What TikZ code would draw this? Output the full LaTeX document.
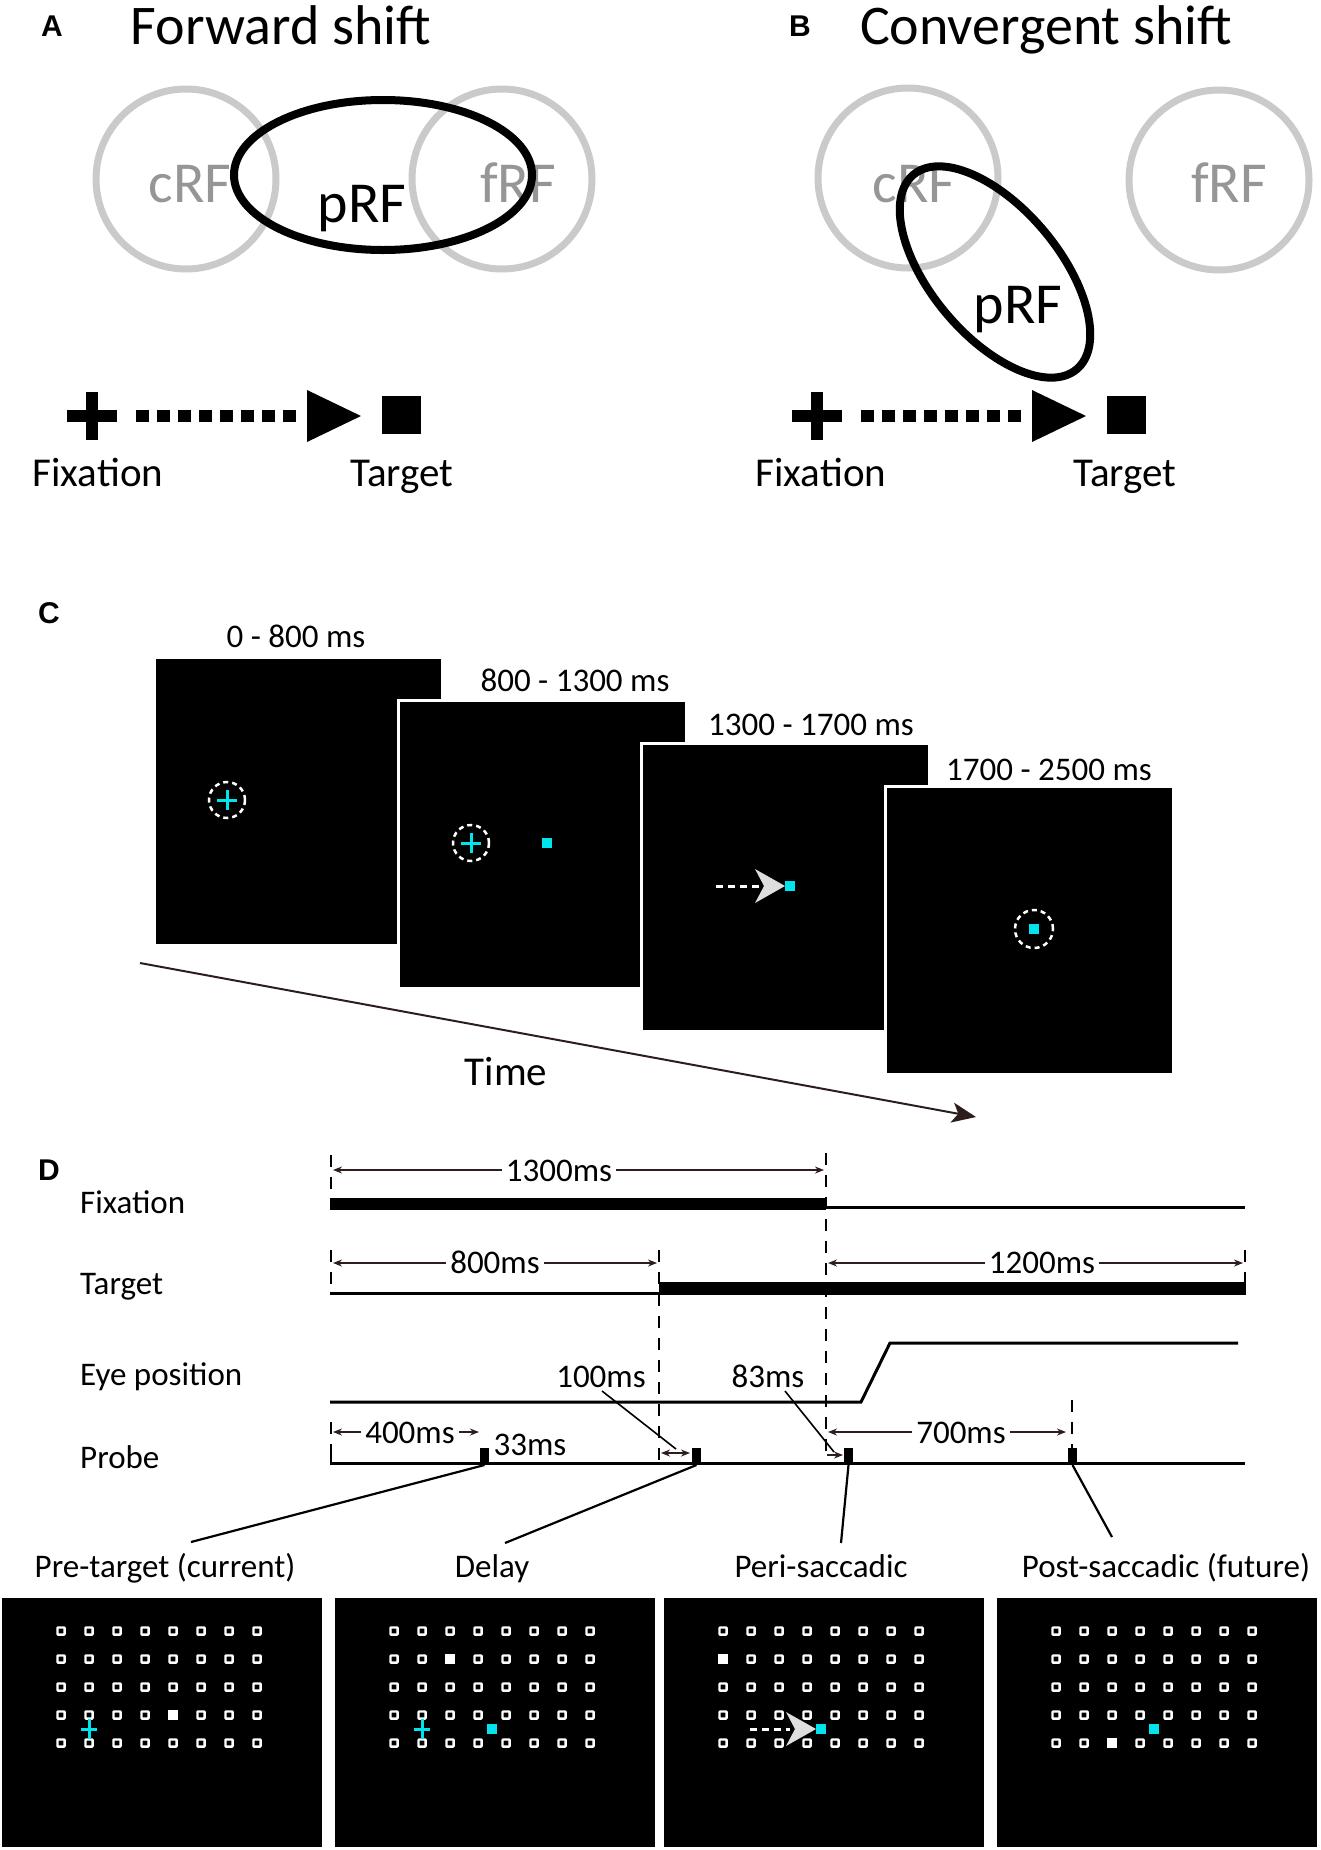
\documentclass[tikz,border=0pt]{standalone}
\usepackage{fontspec}
\setmainfont{Carlito}
\newfontfamily\labfont{Liberation Sans}
\usetikzlibrary{arrows.meta}
\definecolor{cyanm}{RGB}{0,228,238}
\definecolor{rfgray}{RGB}{202,202,202}
\definecolor{rftext}{RGB}{150,150,150}
\definecolor{arrc}{RGB}{45,30,30}
\definecolor{headgray}{RGB}{222,222,222}
\begin{document}
\begin{tikzpicture}[x=1pt,y=-1pt,
  panel/.style={font=\labfont\bfseries\fontsize{30}{32}\selectfont, inner sep=0pt, anchor=base},
  ttl/.style={font=\fontsize{56}{60}\selectfont, inner sep=0pt, anchor=base},
  rft/.style={font=\fontsize{58}{62}\selectfont, inner sep=0pt, anchor=base},
  abt/.style={font=\fontsize{41}{44}\selectfont, inner sep=0pt, anchor=base},
  dt/.style={font=\fontsize{33}{36}\selectfont, inner sep=0pt, anchor=base},
  rowt/.style={dt, anchor=base west},
  mst/.style={dt, fill=white, inner xsep=4pt, inner ysep=0pt},
  rfcirc/.style={rfgray, line width=7pt},
  prf/.style={black, line width=8pt},
  vdash/.style={line width=2.2pt, dash pattern=on 12pt off 10pt},
  msarr/.style={arrc, line width=1.6pt, {Stealth[length=9pt,width=7pt]}-{Stealth[length=9pt,width=7pt]}},
  frame/.style={draw=white, line width=3pt, fill=black},
  dcirc/.style={white, line width=2.5pt, dash pattern=on 5pt off 4pt},
  cyx/.style={cyanm, line width=3pt},
  ring/.style={white, line width=2.3pt, rounded corners=0.8pt},
  leader/.style={black, line width=2.2pt},
  thin/.style={black, line width=3pt}
]
\useasboundingbox (0,0) rectangle (1320,1850);

% ================= Panel A =================
\node[panel] (lA) at (52,36) {A};
\node[ttl] (tA) at (281,44) {Forward shift};
\draw[rfcirc] (186,179) circle[radius=90pt];
\draw[rfcirc] (502,179) circle[radius=90pt];
\node[rft, text=rftext] (cA) at (190,202) {cRF};
\node[rft, text=rftext] (fA) at (518,202) {fRF};
\draw[prf] (383,175) ellipse[x radius=149pt, y radius=75pt];
\node[rft] (pA) at (362,222) {pRF};
\draw[line width=12pt] (67,416) -- (117,416) (92,392) -- (92,440);
\draw[line width=12pt, dash pattern=on 13pt off 8pt] (136,416) -- (296,416);
\fill (307,390) -- (361,416) -- (307,442) -- cycle;
\fill (382,396) rectangle (421,434);
\node[abt] (fixA) at (98,486) {Fixation};
\node[abt] (tgtA) at (402,486) {Target};

% ================= Panel B =================
\node[panel] (lB) at (800,36) {B};
\node[ttl] (tB) at (1046,44) {Convergent shift};
\draw[rfcirc] (908,178) circle[radius=90pt];
\draw[rfcirc] (1219,180) circle[radius=90pt];
\node[rft, text=rftext] (cB) at (914,202) {cRF};
\node[rft, text=rftext] (fB) at (1229,202) {fRF};
\draw[prf, rotate around={-50:(995,272)}] (995,272) ellipse[x radius=127pt, y radius=64pt];
\node[rft] (pB) at (1018,323) {pRF};
\draw[line width=12pt] (792,416) -- (842,416) (817,392) -- (817,440);
\draw[line width=12pt, dash pattern=on 13pt off 8pt] (861,416) -- (1021,416);
\fill (1032,390) -- (1086,416) -- (1032,442) -- cycle;
\fill (1107,396) rectangle (1146,434);
\node[abt] (fixB) at (821,486) {Fixation};
\node[abt] (tgtB) at (1125,486) {Target};

% ================= Panel C =================
\node[panel] (lC) at (49,623) {C};
\draw[frame] (154,657) rectangle +(288,288);
\draw[frame] (398,700) rectangle +(288,288);
\draw[frame] (641,743) rectangle +(288,288);
\draw[frame] (885,786) rectangle +(288,288);
\node[dt] (t1) at (296,647) {0 - 800 ms};
\node[dt] (t2) at (575,691) {800 - 1300 ms};
\node[dt] (t3) at (811,735) {1300 - 1700 ms};
\node[dt] (t4) at (1049,780) {1700 - 2500 ms};
% frame 1
\draw[dcirc] (227,800) circle[radius=18pt];
\draw[cyx] (217,800) -- (237,800) (227,790) -- (227,810);
% frame 2
\draw[dcirc] (471,843) circle[radius=18pt];
\draw[cyx] (461,843) -- (481,843) (471,833) -- (471,853);
\fill[cyanm] (542,838) rectangle (552,848);
% frame 3
\draw[white, line width=3pt, dash pattern=on 7pt off 5pt] (716,886) -- (764,886);
\fill[headgray] (785,886) -- (755,869) -- (764,886) -- (755,903) -- cycle;
\fill[cyanm] (785,881) rectangle (795,891);
% frame 4
\draw[dcirc] (1034,929) circle[radius=19pt];
\fill[cyanm] (1029,924) rectangle (1039,934);
% time arrow
\coordinate (ts) at (140,963);
\coordinate (te) at (976,1117);
\draw[arrc, line width=2pt, -{Stealth[length=24pt,width=20pt,inset=6pt]}] (ts) -- (te);
\node[abt] (time) at (506,1085) {Time};

% ================= Panel D =================
\node[panel] (lD) at (49,1180) {D};
\node[rowt] (rFix) at (80,1213) {Fixation};
\node[rowt] (rTgt) at (80,1294) {Target};
\node[rowt] (rEye) at (80,1385) {Eye position};
\node[rowt] (rPrb) at (80,1468) {Probe};

% vertical dashed markers
\draw[vdash] (331,1155) -- (331,1204);
\draw[vdash] (331,1250) -- (331,1294);
\draw[vdash] (331,1422) -- (331,1464);
\draw[vdash] (659,1250) -- (659,1462);
\draw[vdash] (826,1153) -- (826,1456);
\draw[vdash] (1245,1250) -- (1245,1294);
\draw[vdash] (1072,1400) -- (1072,1448);

% fixation trace
\fill (330,1198) rectangle (826,1209.5);
\draw[thin] (826,1207.5) -- (1245,1207.5);
% target trace
\draw[thin] (330,1293.5) -- (659,1293.5);
\fill (659,1282) rectangle (1246,1295);
% eye trace
\draw[thin] (330,1402) -- (861,1402) -- (890,1343) -- (1238,1343);
% probe trace
\draw[thin] (330,1463.5) -- (1245,1463.5);
\draw[line width=2.5pt] (331,1448) -- (331,1464);
\coordinate (pu1) at (484.5,1465);
\coordinate (pu2) at (696.5,1465);
\coordinate (pu3) at (848.5,1465);
\coordinate (pu4) at (1072.5,1465);
\fill (480,1448) rectangle (489,1465);
\fill (692,1448) rectangle (701,1465);
\fill (844,1448) rectangle (853,1465);
\fill (1068,1448) rectangle (1077,1465);

% interval arrows
\draw[msarr] (333,1170) -- (824,1170);
\node[mst] (m1300) at (559,1181) {1300ms};
\draw[msarr] (333,1263) -- (657,1263);
\node[mst] (m800) at (495,1273) {800ms};
\draw[msarr] (828,1263) -- (1243,1263);
\node[mst] (m1200) at (1042,1273) {1200ms};
\draw[msarr] (333,1432) -- (479,1432);
\node[mst] (m400) at (410,1443) {400ms};
\draw[msarr] (828,1432) -- (1066,1432);
\node[mst] (m700) at (961,1443) {700ms};
\node[dt] (m33) at (530,1455) {33ms};
\draw[msarr] (661,1453) -- (690,1453);
\draw[arrc, line width=1.6pt, -{Stealth[length=9pt,width=7pt]}] (827,1455) -- (843,1455);
\node[dt] (m100) at (601,1387) {100ms};
\node[dt] (m83) at (768,1387) {83ms};
\coordinate (e100) at (676,1449);
\coordinate (e83) at (834,1452);
\draw[black, line width=1.6pt] (602,1391) -- (e100);
\draw[black, line width=1.6pt] (785,1391) -- (e83);

% labels of screens
\node[dt] (sPre) at (165,1577) {Pre-target (current)};
\node[dt] (sDel) at (492,1577) {Delay};
\node[dt] (sPer) at (821,1577) {Peri-saccadic};
\node[dt] (sPos) at (1166,1577) {Post-saccadic (future)};
\coordinate (c1) at (191,1542);
\coordinate (c2) at (505,1543);
\coordinate (c3) at (841,1543);
\coordinate (c4) at (1112,1537);
\draw[leader] (pu1) -- (c1);
\draw[leader] (pu2) -- (c2);
\draw[leader] (pu3) -- (c3);
\draw[leader] (pu4) -- (c4);

% screens
\foreach \L/\fk/\fj in {2/4/3, 335/2/1, 664/0/1, 997/2/4}{
  \fill[black] (\L,1598) rectangle +(320,249);
  \foreach \k in {0,...,7}{
    \foreach \j in {0,...,4}{
      \draw[ring] (\L+59+28*\k-3.6, 1631+28*\j-3.6) rectangle +(7.2,7.2);
    }
  }
  \fill[white] (\L+59+28*\fk-5, 1631+28*\fj-5) rectangle +(10,10);
}
% pre-target screen
\draw[cyx] (81,1729) -- (97,1729) (89,1719) -- (89,1739);
% delay screen
\draw[cyx] (414,1729) -- (430,1729) (422,1719) -- (422,1739);
\fill[cyanm] (487,1724) rectangle (497,1734);
% peri screen
\draw[white, line width=3pt, dash pattern=on 7pt off 5pt] (750,1729) -- (790,1729);
\fill[headgray] (816,1729) -- (786,1712) -- (795,1729) -- (786,1746) -- cycle;
\fill[cyanm] (816,1724) rectangle (826,1734);
% post screen
\fill[cyanm] (1149,1724) rectangle (1159,1734);
\end{tikzpicture}
\end{document}
